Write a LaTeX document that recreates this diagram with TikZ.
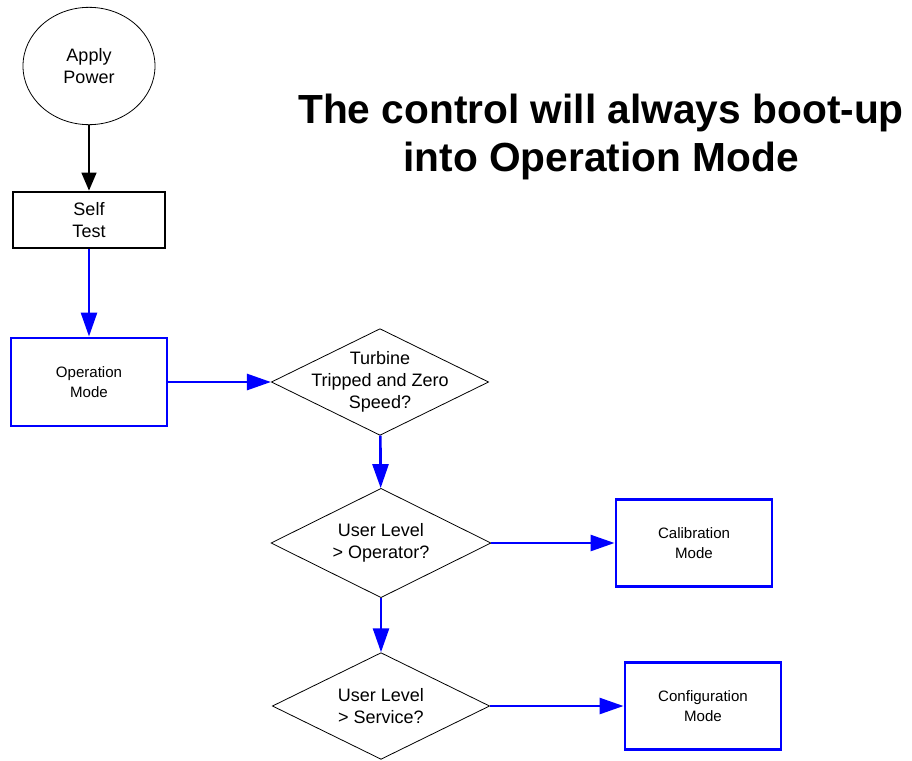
\documentclass[tikz,border=0pt]{standalone}
\usepackage{fontspec}
\setmainfont{Liberation Sans}
\usetikzlibrary{shapes.geometric,arrows.meta}
\definecolor{flowblue}{RGB}{0,0,255}

\begin{document}
\begin{tikzpicture}[x=0.75pt, y=-0.75pt,
  bigtxt/.style={font=\fontsize{13.5}{16.3}\selectfont, align=center},
  smalltxt/.style={font=\fontsize{11.3}{14.5}\selectfont, align=center},
  modebox/.style={draw=flowblue, line width=2.2pt, smalltxt, minimum width=117pt, minimum height=66pt},
  decision/.style={diamond, draw, line width=0.6pt, inner sep=0pt, minimum width=163pt, minimum height=80pt},
  flow/.style={draw=flowblue, line width=2pt, -{Triangle[length=18pt,width=12pt]}}]
  \useasboundingbox (0,0) rectangle (912,760);
  % title
  \node[font=\fontsize{30.5}{36}\selectfont\bfseries, align=center] (title) at (601,137)
    {The control will always boot-up\\into Operation Mode};
  % start
  \node[ellipse, draw, line width=0.6pt, bigtxt, minimum width=99pt, minimum height=88pt] (power) at (89,66) {Apply\\Power};
  \node[draw, line width=2pt, bigtxt, minimum width=114pt, minimum height=42pt] (self) at (89,220) {Self\\Test};
  \node[modebox] (oper) at (89,382) {Operation\\Mode};
  % decisions
  \node[decision, label={[bigtxt]center:Turbine\\Tripped and Zero\\Speed?}] (trip) at (380,382) {};
  \node[decision, minimum width=165pt, minimum height=82pt, label={[bigtxt]center:User Level\\> Operator?}] (oplvl) at (381,543) {};
  \node[decision, label={[bigtxt]center:User Level\\> Service?}] (svlvl) at (381,706) {};
  % modes
  \node[modebox, minimum height=65pt] (calib) at (694,543) {Calibration\\Mode};
  \node[modebox, minimum height=65pt] (config) at (703,706) {Configuration\\Mode};
  % connectors
  \draw[line width=1.8pt, -{Triangle[length=13.5pt,width=11pt]}] (power) -- (self);
  \draw[flow] (self) -- (oper);
  \draw[flow] (oper) -- (trip);
  \draw[flow] (trip) -- (oplvl);
  \draw[flow] (oplvl) -- (calib);
  \draw[flow] (oplvl) -- (svlvl);
  \draw[flow] (svlvl) -- (config);
\end{tikzpicture}
\end{document}
